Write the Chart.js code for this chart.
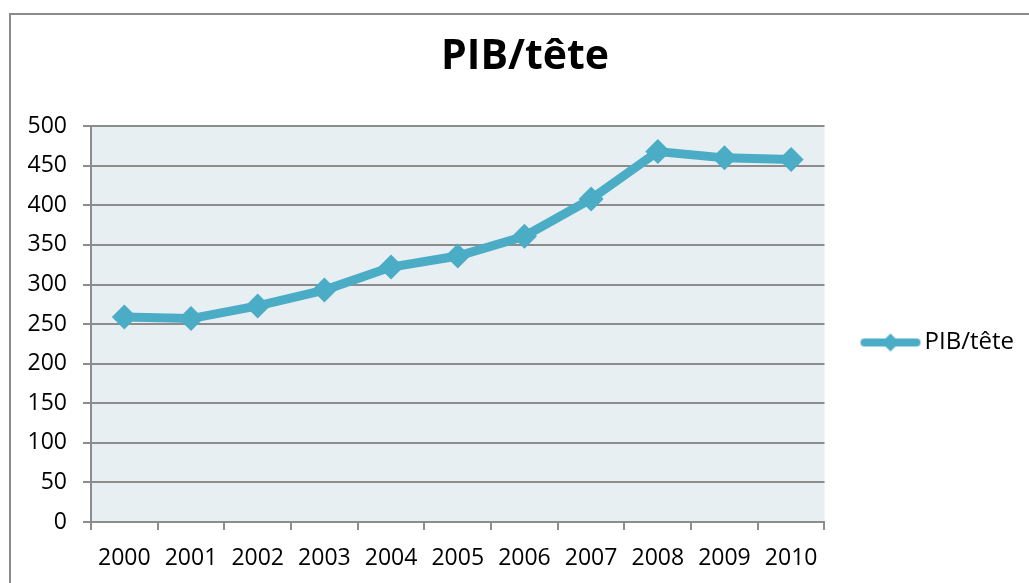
<!DOCTYPE html>
<html>
<head>
<meta charset="utf-8">
<script src="https://cdn.jsdelivr.net/npm/chart.js@4.4.1/dist/chart.umd.min.js"></script>
<style>
  html, body { margin: 0; padding: 0; background: #fff; }
  #wrap { position: relative; width: 1029px; height: 583px; }
</style>
</head>
<body>
<div id="wrap"><canvas id="pib-chart" width="1029" height="583"></canvas></div>
<script>
var years = ['2000', '2001', '2002', '2003', '2004', '2005', '2006', '2007', '2008', '2009', '2010'];
var pibValues = [259, 257, 273, 293, 322, 336, 361, 408, 468, 460, 458];
var seriesName = 'PIB/tête';
var yMin = 0, yMax = 500, yStep = 50;

var lineColor = '#4BACC6';
var gridColor = '#8C8C8C';
var fontFamily = "'Open Sans', 'Noto Sans', sans-serif";

// legend marker: thick line with a diamond in the middle
function legendMarker(){
  var c = document.createElement('canvas');
  c.width = 76; c.height = 24;
  var g = c.getContext('2d');
  g.strokeStyle = lineColor;
  g.lineWidth = 8;
  g.lineCap = 'round';
  g.beginPath(); g.moveTo(16, 12); g.lineTo(68, 12); g.stroke();
  g.fillStyle = lineColor;
  g.beginPath();
  g.moveTo(42, 3); g.lineTo(51, 12); g.lineTo(42, 21); g.lineTo(33, 12);
  g.closePath(); g.fill();
  return c;
}

var frame = {
  id: 'frame',
  beforeDraw: function(chart){
    var ctx = chart.ctx, a = chart.chartArea;
    ctx.save();
    ctx.fillStyle = '#fff';
    ctx.fillRect(0, 0, chart.width, chart.height);
    ctx.strokeStyle = '#8A8A8A';
    ctx.lineWidth = 2;
    ctx.strokeRect(10, 14, chart.width + 20, chart.height + 20);
    ctx.fillStyle = '#E8EFF3';
    ctx.fillRect(a.left, a.top, a.right - a.left, a.bottom - a.top);
    ctx.restore();
  }
};

var ctx = document.getElementById('pib-chart').getContext('2d');
var pibChart = new Chart(ctx, {
  type: 'line',
  data: {
    labels: years,
    datasets: [{
      label: seriesName,
      data: pibValues,
      borderColor: lineColor,
      backgroundColor: lineColor,
      borderWidth: 9,
      tension: 0,
      pointStyle: 'rectRot',
      pointRadius: 12.5,
      pointBorderWidth: 0,
      pointBackgroundColor: lineColor
    }]
  },
  options: {
    responsive: false,
    animation: false,
    layout: { padding: { left: 26, right: 5, top: 0, bottom: 0 } },
    plugins: {
      title: {
        display: true,
        text: seriesName,
        color: '#000',
        font: { family: fontFamily, size: 41, weight: 'bold' },
        padding: { top: 33, bottom: 44 }
      },
      legend: {
        position: 'right',
        title: { display: true, text: ' ', padding: { top: 90, bottom: 0 }, font: { size: 10 } },
        labels: {
          usePointStyle: true,
          pointStyle: legendMarker(),
          pointStyleWidth: 52,
          padding: 36,
          color: '#000',
          font: { family: fontFamily, size: 24 }
        }
      },
      tooltip: { enabled: false }
    },
    scales: {
      x: {
        offset: true,
        afterFit: function(scale){ scale.height = 61; },
        grid: { offset: true, drawOnChartArea: false, color: gridColor, lineWidth: 2, tickLength: 8 },
        border: { color: gridColor, width: 2 },
        ticks: { color: '#000', padding: 15, font: { family: fontFamily, size: 23 } }
      },
      y: {
        min: yMin,
        max: yMax,
        afterFit: function(scale){ scale.width = 65; },
        ticks: { stepSize: yStep, color: '#000', padding: 16, font: { family: fontFamily, size: 23 } },
        grid: { color: gridColor, lineWidth: 2, tickLength: 8 },
        border: { color: gridColor, width: 2 }
      }
    }
  },
  plugins: [frame]
});
</script>
</body>
</html>
